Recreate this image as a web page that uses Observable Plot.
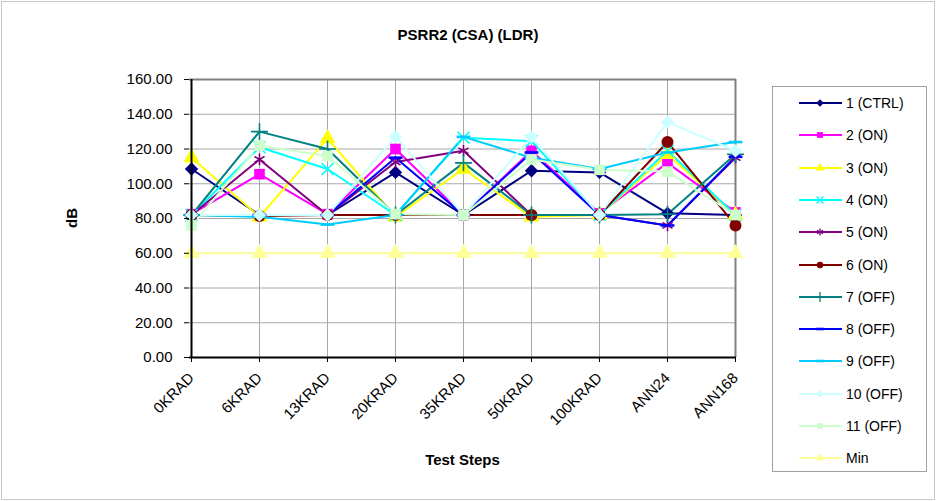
<!DOCTYPE html>
<html>
<head>
<meta charset="utf-8">
<script src="https://cdn.jsdelivr.net/npm/d3@7"></script>
<script src="https://cdn.jsdelivr.net/npm/@observablehq/plot@0.6"></script>
<style>
  html, body { margin: 0; padding: 0; background: #fff; }
  #wrap { position: relative; width: 936px; height: 501px; font-family: "Liberation Sans", Arial, sans-serif; overflow: hidden; }
  #wrap svg.plot { position: absolute; left: 0; top: 0; }
  .border { position: absolute; left: 1px; top: 1px; width: 932px; height: 497px; border: 1px solid #c8c8c8; pointer-events: none; }
  .title { position: absolute; left: 0; width: 936px; top: 26px; text-align: center; font-weight: bold; font-size: 15px; }
  .xlabel { position: absolute; left: 189px; width: 547px; top: 451px; text-align: center; font-weight: bold; font-size: 15px; }
  .ylabel { position: absolute; left: 71px; top: 218px; font-weight: bold; font-size: 15px; transform: translate(-50%, -50%) rotate(-90deg); transform-origin: center; }
  #legend { position: absolute; left: 772px; top: 86px; width: 155px; height: 386px; border: 1px solid #a0a0a0; box-sizing: border-box; background: #fff; }
  .item { position: absolute; left: 24px; height: 20px; display: flex; align-items: center; font-size: 14px; }
  .item svg { margin-right: 3px; }
</style>
</head>
<body>
<div id="wrap">
  <div class="border"></div>
  <div class="title">PSRR2 (CSA) (LDR)</div>
  <div class="ylabel">dB</div>
  <div class="xlabel">Test Steps</div>
  <div id="legend"></div>
</div>
<script>
const categories = ["0KRAD", "6KRAD", "13KRAD", "20KRAD", "35KRAD", "50KRAD", "100KRAD", "ANN24", "ANN168"];
const seriesNames = ["1 (CTRL)", "2 (ON)", "3 (ON)", "4 (ON)", "5 (ON)", "6 (ON)", "7 (OFF)", "8 (OFF)", "9 (OFF)", "10 (OFF)", "11 (OFF)", "Min"];
const yTicks = [0, 20, 40, 60, 80, 100, 120, 140, 160];

const s1  = [108.5, 82.0, 82.0, 106.5, 82.0, 107.5, 106.5, 83.0, 82.0];
const s2  = [82.5, 105.5, 82.5, 120.0, 82.0, 119.0, 83.0, 112.0, 83.5];
const s3  = [115.0, 81.0, 126.0, 81.0, 108.5, 81.0, 82.0, 117.0, 82.0];
const s4  = [82.0, 121.0, 108.5, 82.0, 126.5, 124.5, 82.0, 119.0, 82.0];
const s5  = [82.0, 114.0, 82.0, 112.5, 119.0, 82.0, 82.0, 76.0, 115.0];
const s6  = [82.0, 81.5, 82.0, 82.0, 82.0, 82.0, 82.0, 124.0, 76.0];
const s7  = [82.0, 130.0, 120.0, 82.0, 112.0, 82.0, 82.0, 82.5, 117.0];
const s8  = [82.0, 82.0, 82.0, 115.0, 82.0, 118.0, 82.0, 76.0, 115.5];
const s9  = [82.0, 81.0, 76.5, 82.0, 127.0, 115.0, 108.5, 118.0, 124.0];
const s10 = [82.0, 82.0, 82.0, 127.0, 82.0, 127.0, 82.0, 135.5, 119.0];
const s11 = [76.0, 122.0, 116.0, 82.5, 82.0, 114.0, 108.0, 107.0, 82.0];
const sMin = [60, 60, 60, 60, 60, 60, 60, 60, 60];

const seriesValues = [s1, s2, s3, s4, s5, s6, s7, s8, s9, s10, s11, sMin];
const colors = ["#000080", "#FF00FF", "#FFFF00", "#00FFFF", "#800080", "#800000", "#008080", "#0000FF", "#00CCFF", "#CCFFFF", "#CCFFCC", "#FFFF99"];

const dash = { draw(ctx, size) { const w = Math.sqrt(size) * 1.3; ctx.moveTo(-w / 2, -1.3); ctx.lineTo(w / 2, -1.3); ctx.lineTo(w / 2, 1.3); ctx.lineTo(-w / 2, 1.3); ctx.closePath(); } };
// [symbol, filled]
const markers = [["diamond2", true], ["square", true], ["triangle", true], ["times", false], ["asterisk", false], ["circle", true], ["plus", false], [dash, true], [dash, true], ["diamond2", true], ["square", true], ["triangle", true]];

const rows = [];
seriesNames.forEach((name, i) => {
  categories.forEach((c, j) => rows.push({ series: name, idx: i, step: c, value: seriesValues[i][j] }));
});

const marks = [];
marks.push(Plot.ruleY(yTicks.slice(1, -1), { stroke: "#a8a8a8", strokeWidth: 1 }));
marks.push(Plot.ruleX(categories.slice(1, -1), { stroke: "#a8a8a8", strokeWidth: 1 }));
marks.push(Plot.ruleY([160], { stroke: "#808080", strokeWidth: 2 }));
marks.push(Plot.ruleX([categories[categories.length - 1]], { stroke: "#808080", strokeWidth: 2 }));
seriesNames.forEach((name, i) => {
  marks.push(Plot.line(rows.filter(d => d.idx === i), { x: "step", y: "value", stroke: colors[i], strokeWidth: 2 }));
});
seriesNames.forEach((name, i) => {
  const [sym, filled] = markers[i];
  const data = rows.filter(d => d.idx === i);
  if (filled) marks.push(Plot.dot(data, { x: "step", y: "value", symbol: () => sym, r: 6, fill: colors[i], stroke: "none" }));
  else marks.push(Plot.dot(data, { x: "step", y: "value", symbol: () => sym, r: 5.5, fill: "none", stroke: colors[i], strokeWidth: 1.6 }));
});
marks.push(Plot.ruleY([0], { stroke: "#000", strokeWidth: 2 }));
marks.push(Plot.ruleX([categories[0]], { stroke: "#000", strokeWidth: 2 }));
marks.push(Plot.axisY(yTicks, { tickFormat: d3.format(".2f"), tickSize: 5, tickPadding: 12, fontSize: 15, label: null, stroke: "#000" }));
marks.push(Plot.axisX(categories, { tickRotate: -45, tickSize: 5, tickPadding: 13, fontSize: 15, label: null, stroke: "#000" }));

const chart = Plot.plot({
  width: 936,
  height: 501,
  marginLeft: 189,
  marginRight: 200,
  marginTop: 79,
  marginBottom: 144,
  style: { fontFamily: "'Liberation Sans', Arial, sans-serif", color: "#000", background: "transparent" },
  x: { type: "point", domain: categories, padding: 0 },
  y: { domain: [0, 160] },
  symbol: { type: "identity" },
  marks
});
chart.classList.add("plot");
document.getElementById("wrap").insertBefore(chart, document.querySelector(".title"));

// Legend
const legend = d3.select("#legend");
seriesNames.forEach((name, i) => {
  const item = legend.append("div").attr("class", "item").style("top", (6 + i * 32.3) + "px");
  const svg = item.append("svg").attr("width", 46).attr("height", 14);
  svg.append("line").attr("x1", 2).attr("x2", 45).attr("y1", 7).attr("y2", 7).attr("stroke", colors[i]).attr("stroke-width", 2);
  const [sym, filled] = markers[i];
  const typeMap = { diamond2: d3.symbolDiamond2, square: d3.symbolSquare, triangle: d3.symbolTriangle, times: d3.symbolTimes, asterisk: d3.symbolAsterisk, circle: d3.symbolCircle, plus: d3.symbolPlus };
  const type = typeof sym === "string" ? typeMap[sym] : sym;
  svg.append("path").attr("transform", "translate(23,7)").attr("d", d3.symbol(type, 34)())
    .attr("fill", filled ? colors[i] : "none").attr("stroke", filled ? "none" : colors[i]).attr("stroke-width", 1.3);
  item.append("span").text(name);
});
</script>
</body>
</html>
